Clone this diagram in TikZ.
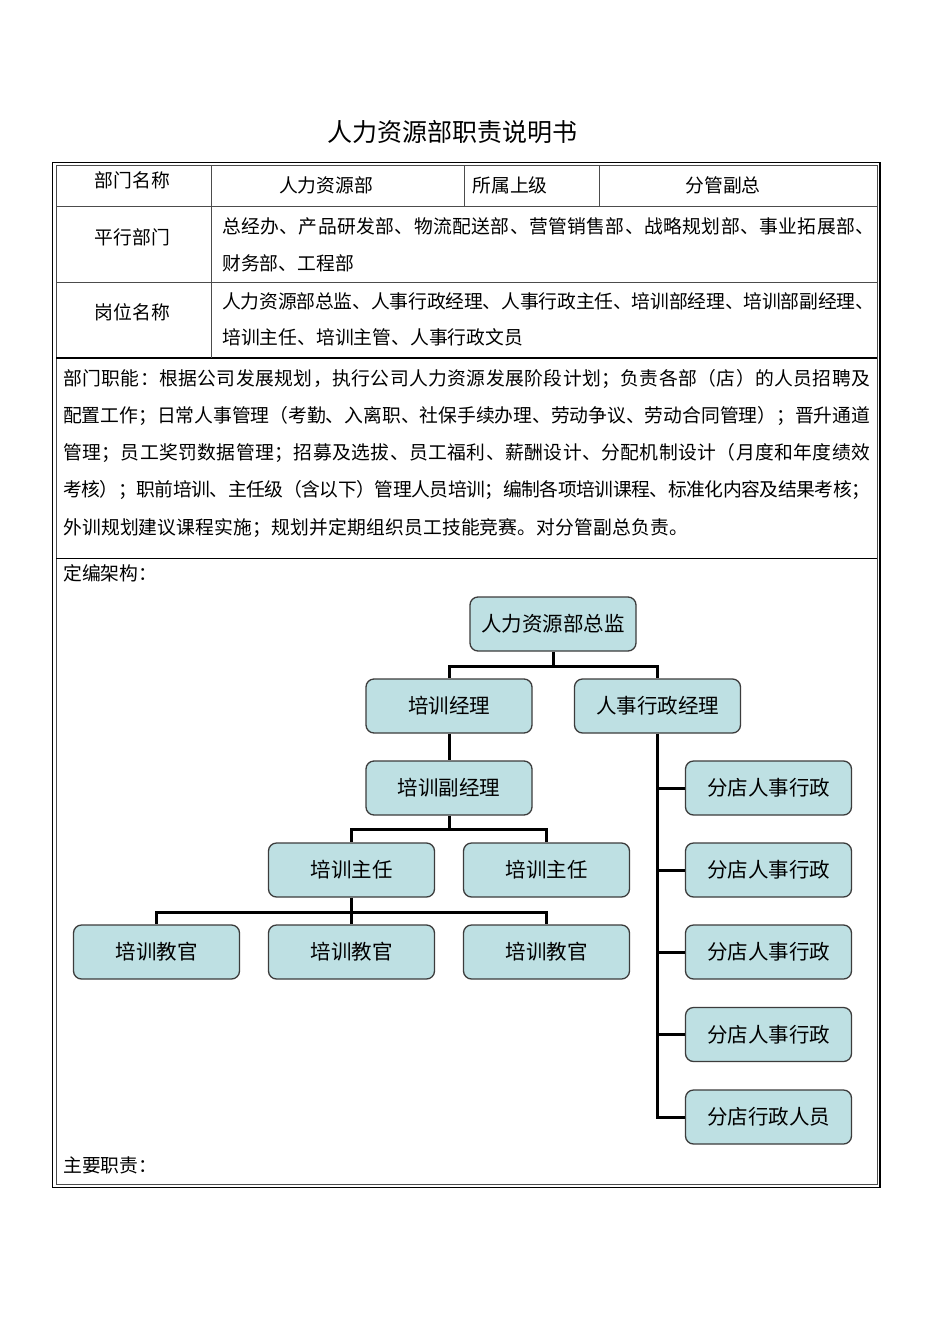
\documentclass[tikz,border=0pt]{standalone}
\usepackage{fontspec}
\setmainfont{Noto Sans CJK SC}
\definecolor{boxfill}{RGB}{190,224,227}
\definecolor{boxline}{RGB}{60,60,60}
\makeatletter
\def\jst#1#2{\makebox[#1][s]{\jst@a#2\jst@end}}
\def\jst@a#1{#1\jst@b}
\def\jst@b#1{\ifx#1\jst@end\else\hskip0pt plus 1fil minus 1pt\relax#1\expandafter\jst@b\fi}
\def\jst@end{}
\makeatother
\tikzset{
  txt/.style={inner sep=0pt, font=\fontsize{18.8}{18.8}\selectfont, text height=16.5pt, text depth=2.3pt},
  ttl/.style={inner sep=0pt, font=\fontsize{25}{25}\selectfont, text height=22pt, text depth=3pt},
  box/.style={draw=boxline, line width=1.3pt, fill=boxfill, rounded corners=8pt,
    minimum width=166pt, minimum height=54pt, inner sep=0pt,
    font=\fontsize{20.5}{20.5}\selectfont, text height=18pt, text depth=2.5pt},
  link/.style={line width=3pt, black},
  outer/.style={line width=1.8pt, black},
  inner/.style={line width=0.8pt, black!70},
  rule/.style={line width=0.8pt, black!70},
}
\begin{document}
\begin{tikzpicture}[x=1pt,y=-1pt]
\useasboundingbox (0,0) rectangle (950,1344);
\fill[white] (0,0) rectangle (950,1344);

% title
\node[ttl] (title) at (452.5,132) {人力资源部职责说明书};

% table frame
\draw[outer] (52.5,162.5) rectangle (880,1187.5);
\draw[inner] (56,165.5) rectangle (877,1184.5);
\draw[rule] (56,206) -- (877,206);
\draw[rule] (56,282) -- (877,282);
\draw[line width=2pt] (56,357.5) -- (877,357.5);
\draw[line width=1.6pt] (56,558.5) -- (877,558.5);
\draw[rule] (211.5,165.5) -- (211.5,357.5);
\draw[rule] (464,165.5) -- (464,206);
\draw[rule] (599.5,165.5) -- (599.5,206);

% row 1
\node[txt] (c11) at (132.5,180) {部门名称};
\node[txt] (c12) at (326,185.5) {人力资源部};
\node[txt] (c13) at (510,185.5) {所属上级};
\node[txt] (c14) at (723,185.5) {分管副总};

% row 2
\node[txt] (c21) at (132.5,237) {平行部门};
\node[txt,anchor=west] (c22a) at (222,226) {\jst{652pt}{总经办、产品研发部、物流配送部、营管销售部、战略规划部、事业拓展部、}};
\node[txt,anchor=west] (c22b) at (222,263) {财务部、工程部};

% row 3
\node[txt] (c31) at (132.5,312) {岗位名称};
\node[txt,anchor=west] (c32a) at (222,301) {\jst{652pt}{人力资源部总监、人事行政经理、人事行政主任、培训部经理、培训部副经理、}};
\node[txt,anchor=west] (c32b) at (222,337.5) {培训主任、培训主管、人事行政文员};

% paragraph
\node[txt,anchor=west] (p1) at (63,378) {\jst{807pt}{部门职能：根据公司发展规划，执行公司人力资源发展阶段计划；负责各部（店）的人员招聘及}};
\node[txt,anchor=west] (p2) at (63,415) {\jst{807pt}{配置工作；日常人事管理（考勤、入离职、社保手续办理、劳动争议、劳动合同管理）；晋升通道}};
\node[txt,anchor=west] (p3) at (63,452) {\jst{807pt}{管理；员工奖罚数据管理；招募及选拔、员工福利、薪酬设计、分配机制设计（月度和年度绩效}};
\node[txt,anchor=west] (p4) at (63,489.5) {\jst{807pt}{考核）；职前培训、主任级（含以下）管理人员培训；编制各项培训课程、标准化内容及结果考核；}};
\node[txt,anchor=west] (p5) at (63,527) {\jst{625pt}{外训规划建议课程实施；规划并定期组织员工技能竞赛。对分管副总负责。}};

\node[txt,anchor=west] (lab1) at (63,573.5) {定编架构：};
\node[txt,anchor=west] (lab2) at (63,1165) {主要职责：};

% org chart
\node[box] (d) at (553,624) {人力资源部总监};
\node[box] (m1) at (449,706) {培训经理};
\node[box] (m2) at (657.5,706) {人事行政经理};
\node[box] (v) at (449,788) {培训副经理};
\node[box] (s1) at (351.5,870) {培训主任};
\node[box] (s2) at (546.5,870) {培训主任};
\node[box] (t1) at (156.5,952) {培训教官};
\node[box] (t2) at (351.5,952) {培训教官};
\node[box] (t3) at (546.5,952) {培训教官};
\node[box] (r1) at (768.5,788) {分店人事行政};
\node[box] (r2) at (768.5,870) {分店人事行政};
\node[box] (r3) at (768.5,952) {分店人事行政};
\node[box] (r4) at (768.5,1034.5) {分店人事行政};
\node[box] (r5) at (768.5,1117) {分店行政人员};

\coordinate (j1) at (553,666);
\coordinate (j2) at (449,829);
\coordinate (j3) at (351.5,912);

\draw[link] (d.south) -- (j1) -| (m1.north);
\draw[link] (j1) -| (m2.north);
\draw[link] (m1.south) -- (v.north);
\draw[link] (v.south) -- (j2) -| (s1.north);
\draw[link] (j2) -| (s2.north);
\draw[link] (s1.south) -- (j3) -| (t1.north);
\draw[link] (j3) -| (t3.north);
\draw[link] (j3) -- (t2.north);
\draw[link] (m2.south) |- (r5.west);
\draw[link] (m2.south |- r1.west) -- (r1.west);
\draw[link] (m2.south |- r2.west) -- (r2.west);
\draw[link] (m2.south |- r3.west) -- (r3.west);
\draw[link] (m2.south |- r4.west) -- (r4.west);
\end{tikzpicture}
\end{document}
